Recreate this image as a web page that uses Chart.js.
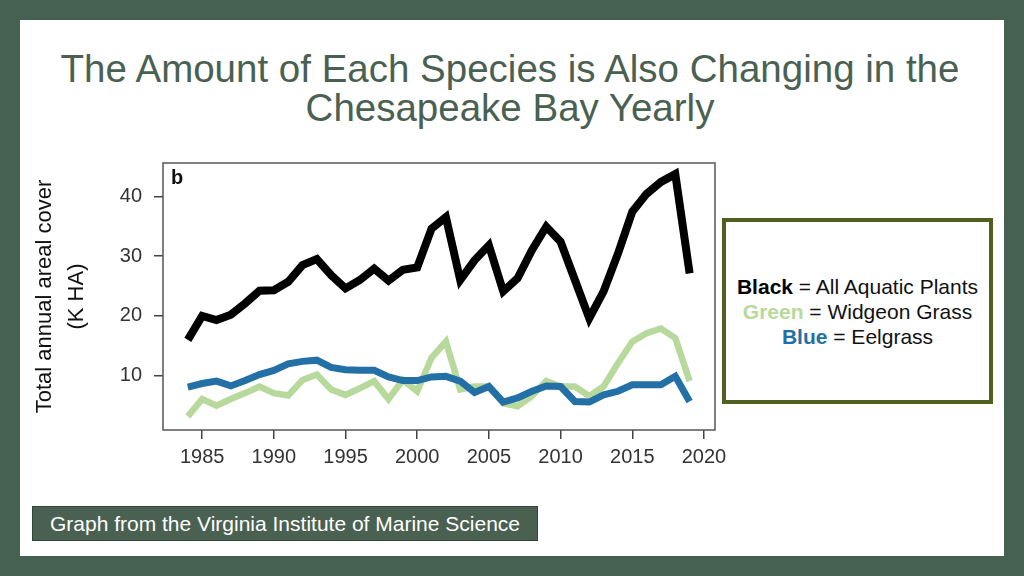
<!DOCTYPE html>
<html>
<head>
<meta charset="utf-8">
<script src="https://cdn.jsdelivr.net/npm/chart.js@4/dist/chart.umd.min.js"></script>
<style>
  html, body { margin: 0; padding: 0; }
  body { width: 1024px; height: 576px; background: #466052; position: relative; overflow: hidden;
         font-family: "Liberation Sans", Arial, sans-serif; }
  .slide { position: absolute; left: 20px; top: 20px; width: 984px; height: 536px; background: #fff; }
  .title { position: absolute; left: 0; top: 49px; width: 1020px; text-align: center;
           color: #4a6152; font-size: 38.5px; line-height: 39px; }
  #chartWrap { position: absolute; left: 20px; top: 150px; width: 720px; height: 340px; }
  .panel { position: absolute; left: 171px; top: 166px; font-weight: bold; font-size: 20px; color: #111; }
  .legend { position: absolute; left: 722px; top: 218px; width: 263px; height: 178px;
            border: 4px solid #4f6020; background: #fff; box-sizing: content-box;
            display: flex; flex-direction: column; justify-content: center; align-items: center;
            font-size: 21px; line-height: 25px; color: #111; }
  .legend b { font-weight: bold; }
  .caption { position: absolute; left: 32px; top: 506px; width: 504px; height: 33px;
             background: #4a6152; border: 1px solid #33453b; color: #fff; font-size: 21px;
             line-height: 33px; text-align: center; }
</style>
</head>
<body>
<div class="slide"></div>
<div class="title">The Amount of Each Species is Also Changing in the<br>Chesapeake Bay Yearly</div>
<div id="chartWrap"><canvas id="chart" width="720" height="340"></canvas></div>
<div class="panel">b</div>
<div class="legend">
  <div><b style="color:#000">Black</b> = All Aquatic Plants</div>
  <div><b style="color:#b8d99c">Green</b> = Widgeon Grass</div>
  <div><b style="color:#2270a6">Blue</b> = Eelgrass</div>
</div>
<div class="caption">Graph from the Virginia Institute of Marine Science</div>

<script>
/* --- Datos --- */
const years = [1984,1985,1986,1987,1988,1989,1990,1991,1992,1993,1994,1995,1996,1997,1998,1999,2000,2001,
               2002,2003,2004,2005,2006,2007,2008,2009,2010,2011,2012,2013,2014,2015,2016,2017,2018,2019];

const allPlants = [16.0,20.0,19.3,20.2,22.1,24.2,24.3,25.7,28.5,29.5,26.8,24.6,26.0,27.9,25.9,27.7,28.1,34.6,
                   36.5,26.0,29.3,31.8,24.1,26.3,31.0,34.9,32.4,26.0,19.6,24.1,30.4,37.4,40.4,42.4,43.7,27.1];

const widgeon = [3.2,6.1,5.0,6.1,7.1,8.2,7.1,6.7,9.3,10.2,7.7,6.8,7.9,9.1,6.1,9.3,7.4,13.0,
                 15.7,7.7,8.2,8.2,5.4,4.9,6.6,9.1,8.2,8.2,6.6,8.2,12.1,15.7,17.1,17.9,16.3,9.1];

const eelgrass = [8.1,8.7,9.1,8.3,9.2,10.2,10.9,12.0,12.4,12.6,11.4,11.0,10.9,10.9,9.8,9.2,9.2,9.8,
                  9.9,9.1,7.2,8.2,5.6,6.3,7.4,8.3,8.2,5.7,5.6,6.8,7.4,8.5,8.5,8.5,9.9,5.7];

const xTicks = [1985,1990,1995,2000,2005,2010,2015,2020];
const yTicks = [10,20,30,40];

const toXY = vals => vals.map((v, i) => ({ x: years[i], y: v }));

/* --- Marco completo del panel --- */
const frameBox = {
  id: 'frameBox',
  afterDraw(chart) {
    const { ctx, chartArea: a } = chart;
    ctx.save();
    ctx.strokeStyle = '#555';
    ctx.lineWidth = 1.5;
    ctx.strokeRect(a.left, a.top, a.right - a.left, a.bottom - a.top);
    ctx.restore();
  }
};

const tickFont = { family: '"Liberation Sans", Arial, sans-serif', size: 20 };

new Chart(document.getElementById('chart'), {
  type: 'line',
  data: {
    datasets: [
      { label: 'All Aquatic Plants', data: toXY(allPlants), borderColor: '#000', borderWidth: 8 },
      { label: 'Eelgrass', data: toXY(eelgrass), borderColor: '#2270a6', borderWidth: 7 },
      { label: 'Widgeon Grass', data: toXY(widgeon), borderColor: '#b8d99c', borderWidth: 6.5 }
    ]
  },
  options: {
    responsive: false,
    animation: false,
    events: [],
    elements: { point: { radius: 0 }, line: { tension: 0, fill: false } },
    layout: { padding: { top: 13, right: 25, bottom: 10, left: 0 } },
    plugins: { legend: { display: false }, tooltip: { enabled: false } },
    scales: {
      x: {
        type: 'linear',
        min: 1982.27,
        max: 2020.77,
        afterBuildTicks: s => { s.ticks = xTicks.map(v => ({ value: v })); },
        afterFit: s => { s.height = 50; s.paddingLeft = 0; s.paddingRight = 0; },
        grid: { display: true, drawOnChartArea: false, tickLength: 9, color: '#444', lineWidth: 1.5 },
        border: { display: false },
        ticks: { color: '#333', font: tickFont, padding: 6, maxRotation: 0, callback: v => String(v) }
      },
      y: {
        min: 0.93,
        max: 45.56,
        afterBuildTicks: s => { s.ticks = yTicks.map(v => ({ value: v })); },
        afterFit: s => { s.width = 143; s.paddingTop = 0; s.paddingBottom = 0; },
        grid: { display: true, drawOnChartArea: false, tickLength: 9, color: '#444', lineWidth: 1.5 },
        border: { display: false },
        ticks: { color: '#333', font: tickFont, padding: 12 },
        title: {
          display: true,
          text: ['Total annual areal cover', '(K HA)'],
          color: '#111',
          font: { family: '"Liberation Sans", Arial, sans-serif', size: 22, lineHeight: 1.45 },
          padding: { top: 9, bottom: 0 }
        }
      }
    }
  },
  plugins: [frameBox]
});
</script>
</body>
</html>
